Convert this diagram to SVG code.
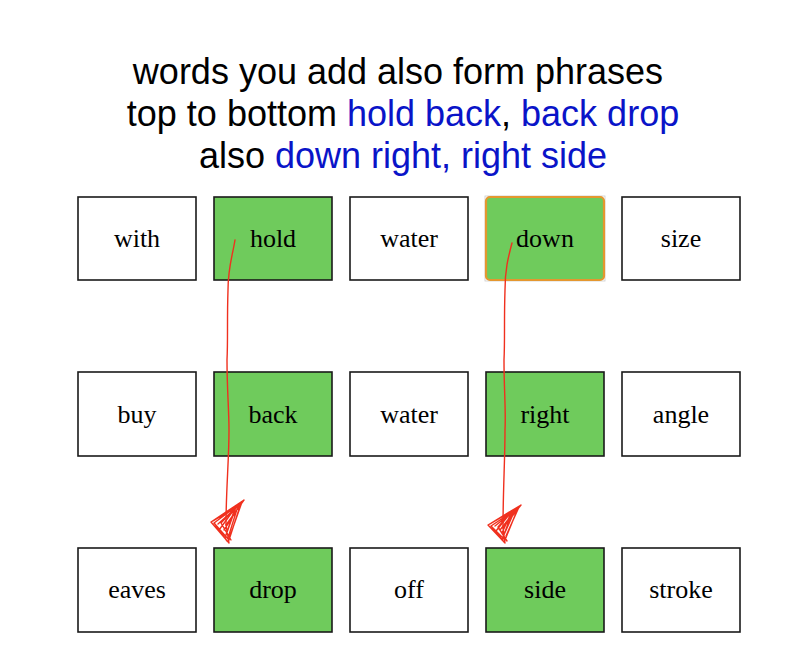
<svg xmlns="http://www.w3.org/2000/svg" width="800" height="670" viewBox="0 0 800 670">
<style>
.t{font-family:"Liberation Sans",Arial,sans-serif;font-size:36px;fill:#000;text-anchor:middle}
.b{fill:#0a14c8}
.box{fill:#fff;stroke:#1a1a1a;stroke-width:1.6}
.g{fill:#6fcb5c}
.w{font-family:"Liberation Serif","Times New Roman",serif;font-size:26px;fill:#000;text-anchor:middle}
.arr{fill:none;stroke:#f0301e;stroke-width:1.4;stroke-linecap:round;stroke-linejoin:round}
</style>
<rect width="800" height="670" fill="#fff"/>
<g id="title">
<text class="t" x="398" y="84">words you add also form phrases</text>
<text class="t" x="403" y="126">top to bottom <tspan class="b">hold back</tspan>, <tspan class="b">back drop</tspan></text>
<text class="t" x="403" y="168">also <tspan class="b">down right, right side</tspan></text>
</g>
<g id="n-with"><rect class="box" x="78" y="197" width="118" height="83"/><text class="w" x="137" y="247">with</text></g>
<g id="n-hold"><rect class="box g" x="214" y="197" width="118" height="83"/><text class="w" x="273" y="247">hold</text></g>
<g id="n-water1"><rect class="box" x="350" y="197" width="118" height="83"/><text class="w" x="409" y="247">water</text></g>
<g id="n-down"><rect x="485" y="196" width="120" height="85" fill="none" stroke="#ccc" stroke-width="0.8"/><rect x="486" y="197" width="118" height="83" rx="4" fill="#6fcb5c" stroke="#e4972f" stroke-width="2.2"/><text class="w" x="545" y="247">down</text></g>
<g id="n-size"><rect class="box" x="622" y="197" width="118" height="83"/><text class="w" x="681" y="247">size</text></g>
<g id="n-buy"><rect class="box" x="78" y="372" width="118" height="84"/><text class="w" x="137" y="423">buy</text></g>
<g id="n-back"><rect class="box g" x="214" y="372" width="118" height="84"/><text class="w" x="273" y="423">back</text></g>
<g id="n-water2"><rect class="box" x="350" y="372" width="118" height="84"/><text class="w" x="409" y="423">water</text></g>
<g id="n-right"><rect class="box g" x="486" y="372" width="118" height="84"/><text class="w" x="545" y="423">right</text></g>
<g id="n-angle"><rect class="box" x="622" y="372" width="118" height="84"/><text class="w" x="681" y="423">angle</text></g>
<g id="n-eaves"><rect class="box" x="78" y="548" width="118" height="84"/><text class="w" x="137" y="598">eaves</text></g>
<g id="n-drop"><rect class="box g" x="214" y="548" width="118" height="84"/><text class="w" x="273" y="598">drop</text></g>
<g id="n-off"><rect class="box" x="350" y="548" width="118" height="84"/><text class="w" x="409" y="598">off</text></g>
<g id="n-side"><rect class="box g" x="486" y="548" width="118" height="84"/><text class="w" x="545" y="598">side</text></g>
<g id="n-stroke"><rect class="box" x="622" y="548" width="118" height="84"/><text class="w" x="681" y="598">stroke</text></g>
<g id="connectors">
<path class="arr" d="M235,240 C232,258 228,268 228,290 C227,320 228,340 227,360 C227,390 229,410 229,430 C229,460 226,490 226,525"/>
<path class="arr" d="M226,525 L244,500 L211,522 L229,543 Z M229,540 L241,503 L214,523 Z M228,538 L238,506 L218,524 M226,535 L235,508 L221,523 L231,540 M224,530 L240,505 L213,521 M230,536 L242,502 M219,530 L236,507 L225,538 M215,524 L227,541"/>
<path class="arr" d="M512,243 C508,258 505,270 505,290 C504,320 505,340 504,360 C504,390 506,410 505,430 C505,460 503,490 503,528"/>
<path class="arr" d="M503,528 L521,505 L488,525 L505,543 Z M505,540 L518,508 L491,526 Z M503,537 L515,510 L495,526 M502,533 L512,511 L498,527 L507,541 M500,530 L517,508 L490,524 M506,536 L519,507 M496,531 L513,510 L502,540 M492,527 L504,542"/>
</g>
</svg>
